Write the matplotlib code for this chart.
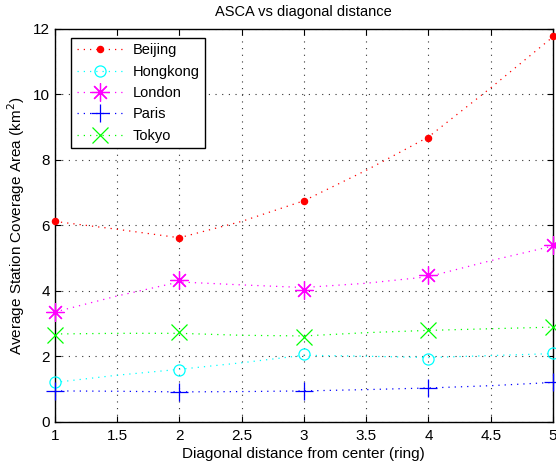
import matplotlib
matplotlib.use("Agg")
import matplotlib.pyplot as plt
from matplotlib.lines import Line2D

plt.rcParams['font.family'] = ['Liberation Sans', 'DejaVu Sans']

# measured data points
x_pts = [1, 2, 3, 4, 5]
beijing = [6.13, 5.61, 6.74, 8.67, 11.78]
hongkong = [1.20, 1.59, 2.06, 1.93, 2.09]
london = [3.34, 4.34, 4.03, 4.49, 5.40]
paris = [0.94, 0.90, 0.94, 1.02, 1.20]
tokyo = [2.66, 2.73, 2.58, 2.79, 2.90]

# fitted trend curves at half steps
x_fit = [1, 1.5, 2, 2.5, 3, 3.5, 4, 4.5, 5]
beijing_fit = [6.12, 5.88, 5.62, 6.12, 6.75, 7.68, 8.70, 10.2, 11.76]
hongkong_fit = [1.20, 1.42, 1.60, 1.80, 2.03, 2.00, 1.96, 2.02, 2.08]
london_fit = [3.35, 3.84, 4.27, 4.18, 4.10, 4.23, 4.43, 4.92, 5.37]
paris_fit = [0.94, 0.93, 0.91, 0.92, 0.94, 0.98, 1.03, 1.10, 1.20]
tokyo_fit = [2.68, 2.70, 2.70, 2.64, 2.62, 2.72, 2.79, 2.84, 2.89]

names = ['Beijing', 'Hongkong', 'London', 'Paris', 'Tokyo']
xticks = [1, 1.5, 2, 2.5, 3, 3.5, 4, 4.5, 5]
yticks = [0, 2, 4, 6, 8, 10, 12]

series = [beijing, hongkong, london, paris, tokyo]
fits = [beijing_fit, hongkong_fit, london_fit, paris_fit, tokyo_fit]
colors = ['#ff0000', '#00ffff', '#ff00ff', '#0000ff', '#00ff00']
markers = ['.', 'o', (8, 2, 0), '+', 'x']
msizes = [9, 8, 13, 13, 11]
mfc = ['#ff0000', 'none', 'none', 'none', 'none']
dots = (0, (1, 4))

fig = plt.figure(figsize=(5.56, 4.66), dpi=100)
ax = fig.add_axes([0.0984, 0.0951, 0.8962, 0.8427])

handles = []
for y, f, c, m, ms, fc, n in zip(series, fits, colors, markers, msizes, mfc, names):
    ax.plot(x_fit, f, linestyle=dots, color=c, lw=0.9)
    ax.plot(x_pts, y, linestyle='none', marker=m, color=c, ms=ms,
            mfc=fc, mec=c, mew=0.9, clip_on=False, zorder=5)
    handles.append(Line2D([], [], linestyle=dots, color=c, lw=0.9, marker=m,
                          ms=ms, mfc=fc, mec=c, mew=0.9, label=n))

ax.set_xlim(1, 5)
ax.set_ylim(0, 12)
ax.set_xticks(xticks)
ax.set_xticklabels([f'{t:g}' for t in xticks])
ax.set_yticks(yticks)
ax.grid(True, linestyle=(0, (1, 5)), color='#333333', lw=0.8)
ax.tick_params(direction='in', top=True, right=True, length=4, labelsize=11)
ax.tick_params(axis='x', pad=5)
for s in ax.spines.values():
    s.set_linewidth(1.0)

ax.set_title('ASCA vs diagonal distance', fontsize=10.5, pad=9)
ax.set_xlabel('Diagonal distance from center (ring)', fontsize=11, labelpad=3)
ax.set_ylabel('Average Station Coverage Area (km$^2$)', fontsize=11, labelpad=4)

leg = ax.legend(handles=handles, loc='upper left', bbox_to_anchor=(0.033, 0.978),
                borderaxespad=0, fontsize=10.5, fancybox=False, framealpha=1,
                edgecolor='black', handlelength=3.2, labelspacing=0.5,
                handletextpad=0.6)
leg.get_frame().set_linewidth(1.0)

fig.savefig('out.png', dpi=100)
